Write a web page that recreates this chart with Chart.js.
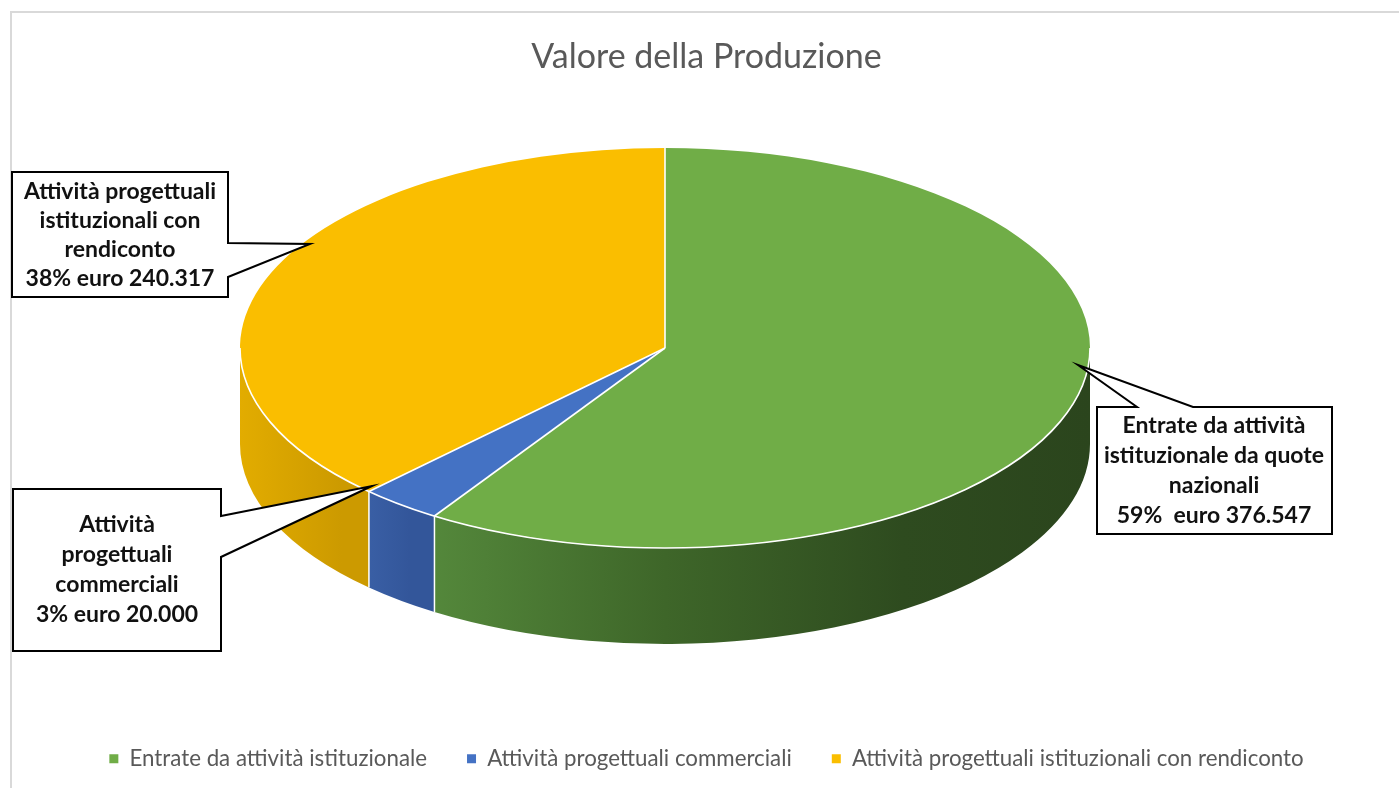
<!DOCTYPE html>
<html><head><meta charset="utf-8">
<script src="https://cdn.jsdelivr.net/npm/chart.js@4.4.1/dist/chart.umd.min.js"></script>
<style>html,body{margin:0;padding:0;background:#fff;overflow:hidden}</style>
</head><body>
<canvas id="c" width="1399" height="788"></canvas>
<script>
// ---- data ----
const chartTitle = "Valore della Produzione";
const categories = ["Entrate da attività istituzionale", "Attività progettuali commerciali", "Attività progettuali istituzionali con rendiconto"];
const values = [376547, 20000, 240317];
const calloutNames = [
  ["Entrate da attività", "istituzionale da quote", "nazionali"],
  ["Attività", "progettuali", "commerciali"],
  ["Attività progettuali", "istituzionali con", "rendiconto"]
];
const calloutSeparators = ["  ", " ", " "];

// ---- styles / layout ----
const FONT = "Lato, 'Open Sans', sans-serif";
const topColors = ["#70AD47", "#4472C4", "#FABE00"];
const sideStops = [
  [[0.15, "#5A9140"], [0.5, "#3E6629"], [0.78, "#2E4B1F"], [1, "#2B451D"]],
  [[0.1, "#4068B0"], [0.2, "#33569A"]],
  [[0, "#E2AC00"], [0.12, "#CC9A00"]]
];
const CX = 665, CY = 348, RX = 425, RY = 200, DEPTH = 96;
const callouts = [
  { pts: [[1097,407],[1137,407],[1078,365],[1193,407],[1332,407],[1332,534],[1097,534]], cx: 1214, y0: 426, dy: 29.7 },
  { pts: [[13,489],[221,489],[221,516],[372,486],[221,557],[221,651],[13,651]], cx: 117, y0: 525, dy: 30 },
  { pts: [[12,172],[228,172],[228,243],[310,244],[228,277],[228,297],[12,297]], cx: 120, y0: 192, dy: 29 }
];

function fmtIt(v){ return String(v).replace(/\B(?=(\d{3})+(?!\d))/g, "."); }

const total = values.reduce((a,b)=>a+b,0);

function sideGradient(ctx, stops){
  const g = ctx.createLinearGradient(CX-RX, 0, CX+RX, 0);
  stops.forEach(([t,c]) => g.addColorStop(t,c));
  return g;
}

const pie3d = {
  id: 'pie3d',
  beforeDraw(chart){
    const ctx = chart.ctx;
    ctx.save();
    ctx.fillStyle = "#fff"; ctx.fillRect(0,0,chart.width,chart.height);
    ctx.fillStyle = "#D9D9D9";
    ctx.fillRect(10, 11, chart.width-10, 2);
    ctx.fillRect(10, 11, 2, chart.height-11);
    ctx.restore();
  },
  beforeDatasetsDraw(chart){
    const ctx = chart.ctx;
    const arcs = chart.getDatasetMeta(0).data;
    ctx.save();
    arcs.forEach((arc,i) => {
      const a1 = Math.max(arc.startAngle, 0), a2 = Math.min(arc.endAngle, Math.PI);
      if (a2 <= a1) return;
      ctx.beginPath();
      ctx.ellipse(CX, CY, RX, RY, 0, a1, a2, false);
      ctx.ellipse(CX, CY+DEPTH, RX, RY, 0, a2, a1, true);
      ctx.closePath();
      ctx.fillStyle = sideGradient(ctx, sideStops[i]);
      ctx.fill();
    });
    ctx.strokeStyle = "#fff"; ctx.lineWidth = 1.5;
    arcs.forEach(arc => {
      const a = arc.startAngle;
      if (a > 0 && a < Math.PI) {
        const x = CX + RX*Math.cos(a), y = CY + RY*Math.sin(a);
        ctx.beginPath(); ctx.moveTo(x, y); ctx.lineTo(x, y+DEPTH); ctx.stroke();
      }
    });
    const {x, y, outerRadius: R} = arcs[0];
    ctx.translate(CX, CY);
    ctx.scale(RX/R, RY/R);
    ctx.translate(-x, -y);
  },
  afterDatasetsDraw(chart){
    const ctx = chart.ctx;
    ctx.restore();
    const arcs = chart.getDatasetMeta(0).data;
    ctx.save();
    ctx.strokeStyle = "#fff"; ctx.lineWidth = 1.6;
    ctx.beginPath(); ctx.ellipse(CX, CY, RX, RY, 0, 0, Math.PI, false); ctx.stroke();
    arcs.forEach(arc => {
      const a = arc.startAngle;
      ctx.beginPath(); ctx.moveTo(CX, CY);
      ctx.lineTo(CX + RX*Math.cos(a), CY + RY*Math.sin(a)); ctx.stroke();
    });
    ctx.restore();
  },
  afterDraw(chart){
    const ctx = chart.ctx;
    ctx.save();
    callouts.forEach((c, i) => {
      ctx.beginPath();
      c.pts.forEach(([px,py], k) => k ? ctx.lineTo(px,py) : ctx.moveTo(px,py));
      ctx.closePath();
      ctx.fillStyle = "#fff"; ctx.fill();
      ctx.strokeStyle = "#000"; ctx.lineWidth = 2; ctx.lineJoin = "miter"; ctx.stroke();
      const pct = Math.round(values[i]/total*100);
      const lines = calloutNames[i].concat([pct + "%" + calloutSeparators[i] + "euro " + fmtIt(values[i])]);
      ctx.fillStyle = "#111"; ctx.font = "bold 23px " + FONT;
      ctx.textAlign = "center"; ctx.textBaseline = "middle";
      lines.forEach((t, k) => ctx.fillText(t, c.cx, c.y0 + k*c.dy));
    });
    ctx.restore();
  }
};

new Chart(document.getElementById('c'), {
  type: 'pie',
  data: {
    labels: categories,
    datasets: [{ data: values, backgroundColor: topColors, borderWidth: 0, clip: false }]
  },
  options: {
    responsive: false,
    animation: false,
    devicePixelRatio: 1,
    events: [],
    layout: { padding: { left: 14, right: 0, top: 0, bottom: 8 } },
    plugins: {
      title: { display: true, text: chartTitle, color: "#595959", font: { family: FONT, size: 34, weight: 'normal' }, padding: { top: 37, bottom: 10 } },
      legend: { position: 'bottom', labels: { boxWidth: 9, boxHeight: 9, padding: 40, color: "#595959", font: { family: FONT, size: 22.3 } } },
      tooltip: { enabled: false }
    }
  },
  plugins: [pie3d]
});
</script>
</body></html>
